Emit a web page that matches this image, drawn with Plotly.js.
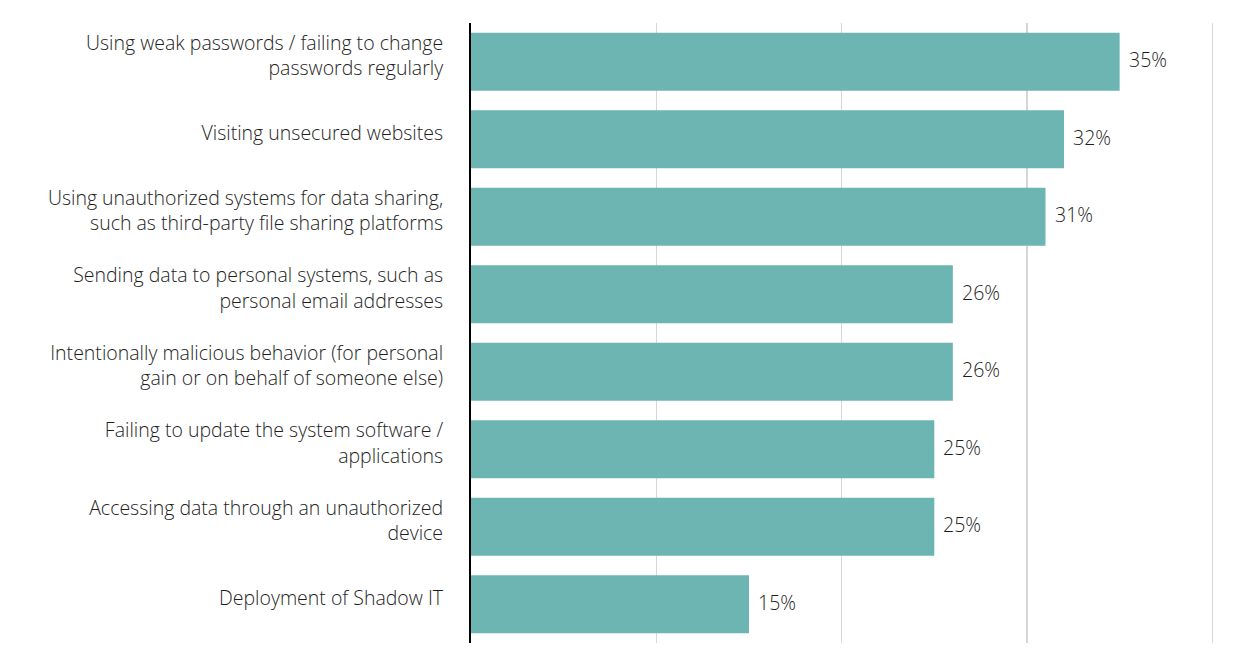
<!DOCTYPE html>
<html>
<head>
<meta charset="utf-8">
<script src="https://cdn.plot.ly/plotly-3.0.1.min.js"></script>
<style>html,body{margin:0;padding:0;background:#fff;}#chart{width:1236px;height:667px;}</style>
</head>
<body>
<div id="chart"></div>
<script>
const categories = [
  "Using weak passwords / failing to change<br>passwords regularly",
  "Visiting unsecured websites",
  "Using unauthorized systems for data sharing,<br>such as third-party file sharing platforms",
  "Sending data to personal systems, such as<br>personal email addresses",
  "Intentionally malicious behavior (for personal<br>gain or on behalf of someone else)",
  "Failing to update the system software /<br>applications",
  "Accessing data through an unauthorized<br>device",
  "Deployment of Shadow IT"
];
const values = [35, 32, 31, 26, 26, 25, 25, 15];
const valueLabels = ["35%", "32%", "31%", "26%", "26%", "25%", "25%", "15%"];
const tickValues = [0, 10, 20, 30, 40];

const font = {family: "'Open Sans', Roboto, sans-serif", size: 19.5, color: "#1e1e1e", weight: 300};

const trace = {
  type: "bar",
  orientation: "h",
  x: values,
  y: categories,
  marker: {color: "#6db5b2"},
  hoverinfo: "none"
};

const annotations = values.map((v, i) => ({
  x: v, y: categories[i], xref: "x", yref: "y",
  text: valueLabels[i], showarrow: false,
  xanchor: "left", xshift: 7, yshift: 2, font: font
}));

const layout = {
  width: 1236, height: 667,
  margin: {l: 471, r: 20, t: 23, b: 24},
  paper_bgcolor: "#fff", plot_bgcolor: "#fff",
  font: font,
  bargap: 0.25,
  showlegend: false,
  xaxis: {
    range: [0, 40.2],
    tickvals: tickValues,
    showticklabels: false,
    showgrid: true,
    gridcolor: "rgba(0,0,0,0.16)",
    gridwidth: 1.5,
    zeroline: false,
    showline: false,
    layer: "above traces",
    fixedrange: true
  },
  yaxis: {
    autorange: "reversed",
    showline: true,
    linecolor: "#000",
    linewidth: 2,
    ticks: "",
    ticklabelstandoff: 22,
    ticklabelshift: 6,
    showgrid: false,
    layer: "above traces",
    tickfont: font,
    fixedrange: true
  },
  annotations: annotations
};

Plotly.newPlot("chart", [trace], layout, {displayModeBar: false, staticPlot: true});
</script>
</body>
</html>
